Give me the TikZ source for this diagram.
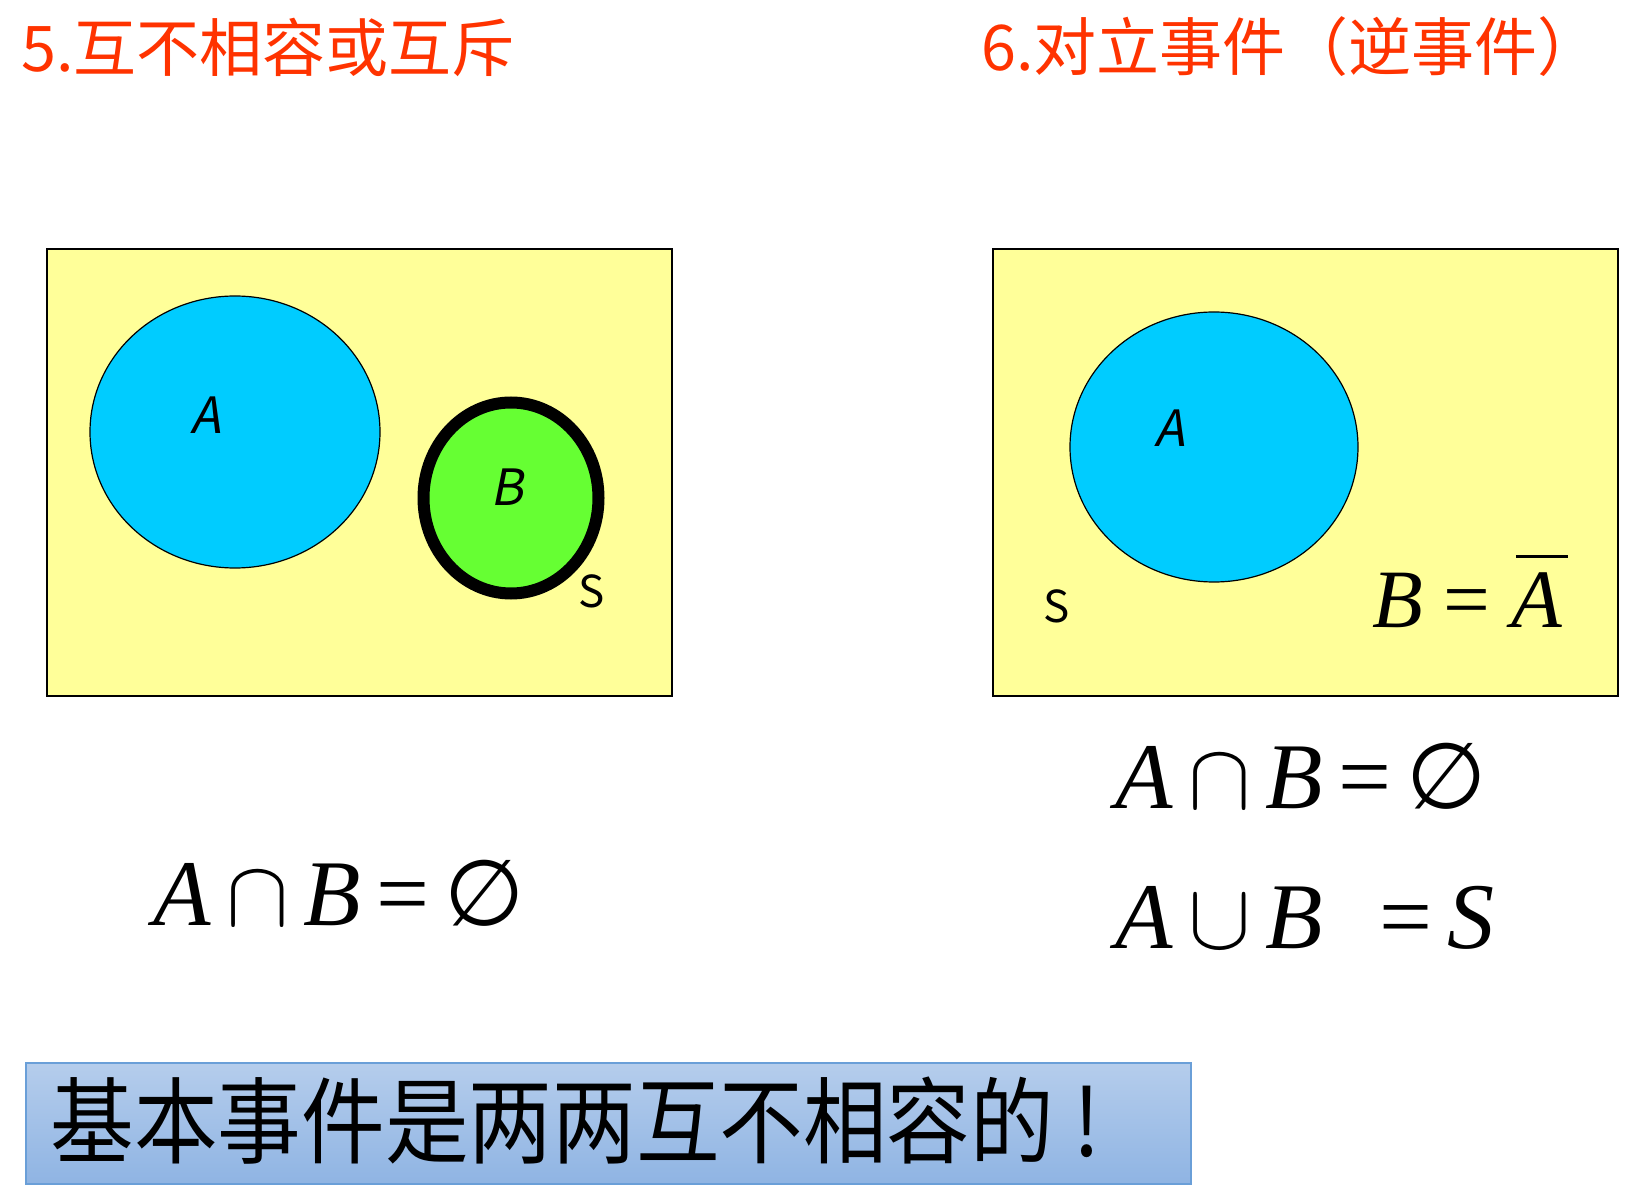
\documentclass[tikz,border=0pt]{standalone}
\usepackage{mathptmx}
\usepackage{fontspec}
\setmainfont{Noto Sans CJK SC}
\newfontfamily\cjk{Noto Sans CJK SC}
\newfontfamily\cjknarrow{Noto Sans CJK SC}[FakeStretch=0.89]
\newfontfamily\lbl{Noto Sans CJK SC}[FakeSlant=0.2]
\newfontfamily\tms{Liberation Serif}
\newfontfamily\symfnt{DejaVu Sans}
\usetikzlibrary{shapes.geometric}

\definecolor{titlered}{HTML}{FF3300}
\definecolor{sampleyellow}{HTML}{FFFF99}
\definecolor{setblue}{HTML}{00CCFF}
\definecolor{setgreen}{HTML}{66FF33}
\definecolor{boxtop}{HTML}{B5CDEC}
\definecolor{boxbottom}{HTML}{8FB4E3}
\definecolor{boxline}{HTML}{6A9FD8}

% letters and symbols of the formulas
\newcommand{\ev}[1]{\textit{#1}}
\newcommand{\sep}{\hspace{0.16em}}
\newcommand{\nullset}{{\symfnt\fontsize{46}{46}\selectfont ∅}}
\newcommand{\compA}{\ev{A}\kern0.07em\llap{\raisebox{0.84em}{\rule{0.63em}{0.04em}}}}

\tikzset{
  title/.style={anchor=west, inner sep=0pt, text=titlered, font=\cjk\fontsize{31.5}{31.5}\selectfont},
  space/.style={draw=black, line width=1pt, fill=sampleyellow, inner sep=0pt},
  setA/.style={ellipse, draw=black, line width=0.6pt, fill=setblue, inner sep=0pt},
  setB/.style={ellipse, draw=black, line width=6pt, fill=setgreen, inner sep=0pt},
  setlabel/.style={inner sep=0pt, font=\lbl\fontsize{25}{25}\selectfont},
  slabel/.style={inner sep=0pt, font=\cjk\fontsize{22}{22}\selectfont},
  formula/.style={anchor=base west, inner sep=0pt, font=\tms\fontsize{47}{47}\selectfont},
  note/.style={draw=boxline, line width=1pt, top color=boxtop, bottom color=boxbottom, inner sep=0pt}
}

\begin{document}
\begin{tikzpicture}[x=0.5pt, y=-0.5pt]
  \useasboundingbox (0,0) rectangle (1646,1187);

  % --- Titles ---
  \node[title] (t5) at (21,47) {5.互不相容或互斥};
  \node[title] (t6) at (981,47) {6.对立事件（逆事件）};

  % --- Left: disjoint events ---
  \node[space, minimum width=312.5pt, minimum height=223.5pt] (S1) at (359.5,472.5) {};
  \node[setA, minimum width=145pt, minimum height=136pt] (A1) at (235,432) {};
  \node[setB, minimum width=87.5pt, minimum height=95.5pt] (B1) at (511,498) {};
  \node[setlabel] (a1) at (206,415) {A};
  \node[setlabel] (b1) at (507,487) {B};
  \node[slabel] (s1) at (592,591) {S};
  \node[formula] (f1) at (153,925) {\ev{A}\sep$\cap$\sep\ev{B}\sep=\sep\nullset};

  % --- Right: complementary events ---
  \node[space, minimum width=312.5pt, minimum height=223.5pt] (S2) at (1305.5,472.5) {};
  \node[setA, minimum width=144pt, minimum height=135pt] (A2) at (1214,447) {};
  \node[setlabel] (a2) at (1170,428) {A};
  \node[slabel] (s2) at (1057,606) {S};
  \node[formula, font=\tms\fontsize{41.5}{41.5}\selectfont] (comp) at (1372,628) {\ev{B} = \compA};
  \node[formula] (f2) at (1115,809) {\ev{A}\sep$\cap$\sep\ev{B}\sep=\sep\nullset};
  \node[formula] (f3) at (1115,948) {\ev{A}\sep$\cup$\sep\ev{B}\hspace{0.6em}=\sep\ev{S}};

  % --- Bottom note ---
  \node[note, minimum width=582.5pt, minimum height=60.5pt] (nb) at (608.5,1123.5) {};
  \node[anchor=west, inner sep=0pt, font=\cjknarrow\fontsize{47}{47}\selectfont] (nt) at (50,1121)
    {基本事件是两两互不相容的\hspace{0.2em}!};

\end{tikzpicture}
\end{document}
